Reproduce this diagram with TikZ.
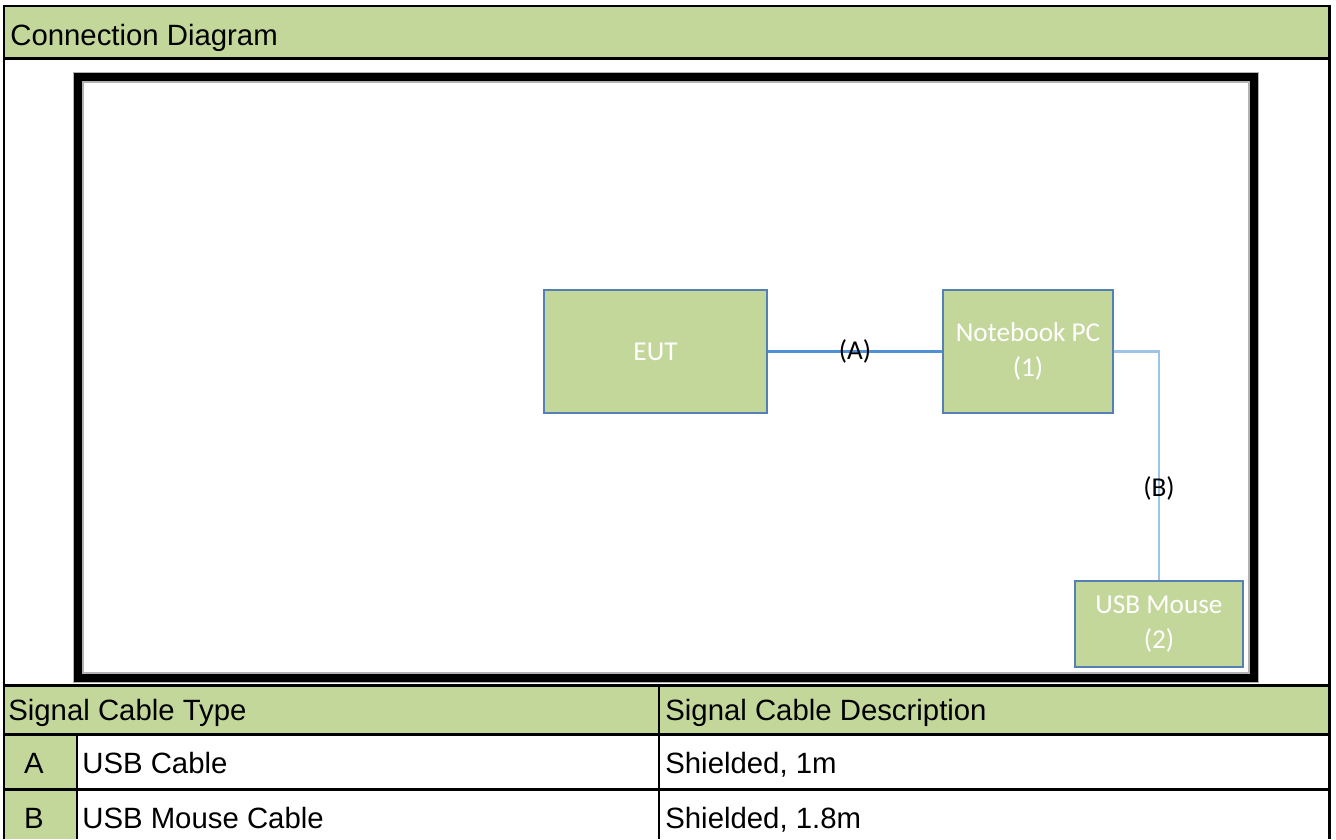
\documentclass[tikz,border=0pt]{standalone}
\usepackage{fontspec}
\setmainfont{Liberation Sans}
\newfontfamily\boxfont{Carlito}
\usetikzlibrary{positioning, calc}
\definecolor{cellgreen}{RGB}{196, 215, 155}
\definecolor{boxedge}{RGB}{84, 128, 182}
\definecolor{cableblue}{RGB}{79, 145, 210}
\definecolor{cablelight}{RGB}{157, 195, 230}

\begin{document}
\begin{tikzpicture}[x=0.02cm, y=-0.02cm,
    eqbox/.style={draw=boxedge, line width=1.1pt, fill=cellgreen, text=white, align=center, inner sep=0pt,
      font=\boxfont\fontsize{15.5}{20}\selectfont},
    cable/.style={line width=1.3pt},
    cablelabel/.style={inner sep=0pt, text=black, font=\boxfont\fontsize{15.5}{20}\selectfont},
    celltext/.style={anchor=base west, inner sep=0pt, font=\fontsize{16.7}{20}\selectfont},
    rule/.style={line width=1.7pt}]
  \useasboundingbox (0,0) rectangle (1336,839);

  % Title band and table fills
  \fill[cellgreen] (4,6) rectangle (1329,58);
  \fill[cellgreen] (4,685) rectangle (1329,734);
  \fill[cellgreen] (4,734) rectangle (77,839);
  \node[celltext] (title) at (10,45) {Connection Diagram};

  % Grid
  \draw[rule] (4,839) -- (4,6) -- (1329,6) -- (1329,839);
  \draw[rule] (4,58.5) -- (1329,58.5);
  \draw[rule] (4,685) -- (1329,685);
  \draw[rule] (4,734) -- (1329,734);
  \draw[rule] (4,789) -- (1329,789);
  \draw[rule] (77,734) -- (77,839);
  \draw[rule] (659,685) -- (659,839);

  % Drawing frame
  \draw[gray!60, line width=0.6pt] (73.5,72.5) rectangle (1258.5,682.5);
  \draw[line width=5.1pt] (78.5,77.5) rectangle (1253.5,677.5);
  \draw[gray!60, line width=0.6pt] (83,82) rectangle (1249,673);

  % Equipment
  \node[eqbox, minimum width=4.46cm, minimum height=2.46cm] (eut) at (655.5,351.5) {EUT};
  \node[eqbox, minimum width=3.4cm, minimum height=2.46cm] (pc) at (1028,351.5) {Notebook PC\\(1)};
  \node[eqbox, minimum width=3.36cm, minimum height=1.72cm] (mouse) at (1159,624) {USB Mouse\\(2)};

  % Cables
  \draw[cable, draw=cableblue] (eut) -- node[cablelabel] {(A)} (pc);
  \draw[cable, draw=cablelight] (pc.east) -| node[cablelabel, pos=0.8] {(B)} (mouse.north);

  % Table text
  \node[celltext] (typehd) at (8,720) {Signal Cable Type};
  \node[celltext] (deschd) at (665,720) {Signal Cable Description};
  \node[celltext, anchor=base] (keya) at (34,773) {A};
  \node[celltext] (typea) at (82,773) {USB Cable};
  \node[celltext] (desca) at (665,773) {Shielded, 1m};
  \node[celltext, anchor=base] (keyb) at (34,828) {B};
  \node[celltext] (typeb) at (82,828) {USB Mouse Cable};
  \node[celltext] (descb) at (665,828) {Shielded, 1.8m};
\end{tikzpicture}
\end{document}
